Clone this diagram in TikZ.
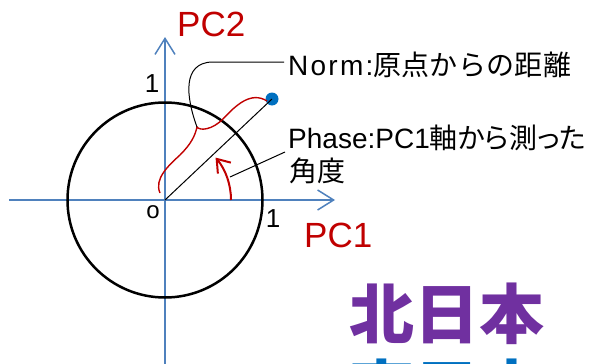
\documentclass[tikz,border=0pt]{standalone}
\usepackage{fontspec}
\setmainfont{Liberation Sans}
\newfontfamily\cjk{Noto Sans CJK JP}
\newfontfamily\cjkp[RawFeature=+palt]{Noto Sans CJK JP}
\newfontfamily\cjkw[LetterSpace=1]{Noto Sans CJK JP}
\newfontfamily\latw[LetterSpace=8]{Liberation Sans}
\usetikzlibrary{arrows.meta}
\definecolor{axisblue}{HTML}{4F81BD}
\definecolor{pcred}{HTML}{C00000}
\definecolor{dotblue}{HTML}{0070C0}
\definecolor{titlepurple}{HTML}{7030A0}
\begin{document}
\begin{tikzpicture}[x=1pt,y=-1pt,
  axis/.style={draw=axisblue,line width=1.5pt,-{Straight Barb[length=16pt,width=20pt]}},
  unitcircle/.style={draw=black,line width=2.5pt},
  radius line/.style={draw=black,line width=1pt},
  brace/.style={draw=pcred,line width=1.4pt},
  lead/.style={draw=black,line width=1pt},
  anglearc/.style={draw=pcred,line width=2pt,-{Straight Barb[length=12pt,width=17pt]}},
  lbl/.style={inner sep=0pt,anchor=base west},
  pclbl/.style={lbl,text=pcred,font=\fontsize{35}{40}\selectfont},
  tick/.style={inner sep=0pt,anchor=base,font=\fontsize{26}{30}\selectfont},
  note/.style={lbl,font=\fontsize{28}{32}\selectfont},
  title/.style={lbl,font=\cjk\bfseries\fontsize{65}{70}\selectfont}]
\useasboundingbox (0,0) rectangle (590,364);

% coordinates
\coordinate (O) at (165,200);
\coordinate (xl) at (9,200);
\coordinate (xr) at (335,200);
\coordinate (yb) at (165,364);
\coordinate (yt) at (165,37);
\coordinate (bstart) at (160,193);
\coordinate (cusp) at (197,127);
\coordinate (bend) at (267,101);
\coordinate (normend) at (284,62);
\coordinate (phstart) at (230,177);
\coordinate (phend) at (285,152);

% axes
\draw[axis] (xl) -- (xr);
\draw[axis] (yb) -- (yt);

% unit circle
\draw[unitcircle] (O) circle[radius=97.5];

% data point and radius
\node[circle,fill=dotblue,inner sep=0pt,minimum size=13pt] (pt) at (272,99) {};
\draw[radius line] (O) -- (pt.center);

% angle arc
\draw[anglearc] (231,200) arc[start angle=0,end angle=-40,radius=66];

% norm brace
\draw[brace] (bstart) .. controls (154,179) and (168,166) .. (180,155)
  .. controls (191,144) and (195,136) .. (cusp)
  .. controls (200,131) and (212,130) .. (223,119)
  .. controls (236,105) and (251,91) .. (bend);

% leaders
\draw[lead] (cusp) .. controls (186,97) and (182,63) .. (212,62) -- (normend);
\draw[lead] (phstart) -- (phend);

% labels
\node[pclbl] (pc2) at (177,36) {PC2};
\node[pclbl] (pc1) at (304,247) {PC1};
\node[tick] (one2) at (152,92) {1};
\node[tick] (one1) at (273,227) {1};
\node[inner sep=0pt,anchor=base,font=\fontsize{24}{28}\selectfont] (orig) at (153,218) {o};

\node[note] (norm) at (288,75) {{\latw Norm:}{\cjkw 原点からの距離}};
\node[note] (phase) at (288,148) {Phase:PC1{\cjkp 軸から測った}};
\node[note] (phase2) at (289,181) {{\cjk 角度}};

\node[title,text=titlepurple] (t1) at (349,338) {北日本};
\node[title,text=dotblue] (t2) at (349,414) {東日本};
\end{tikzpicture}
\end{document}
